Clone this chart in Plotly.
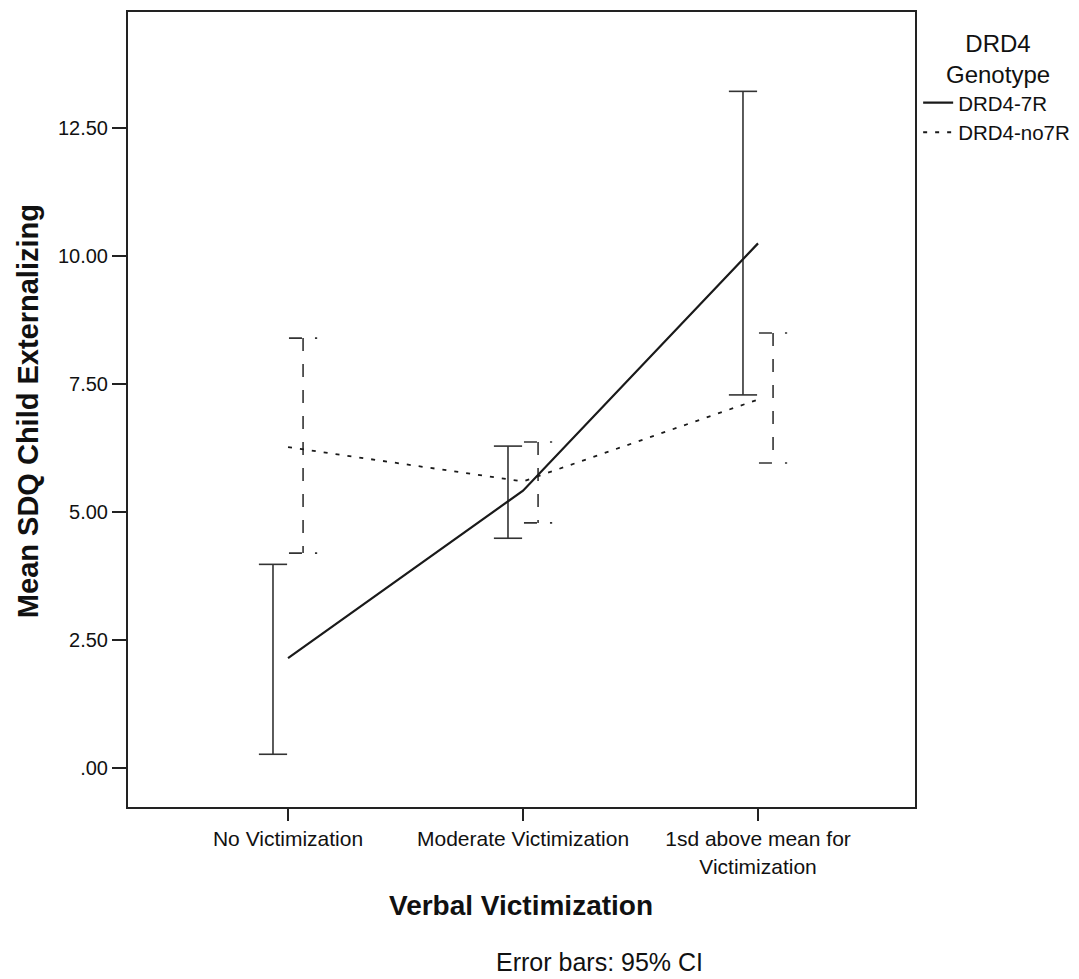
import plotly.graph_objects as go

categories = ["No Victimization", "Moderate Victimization", "1sd above mean for<br>Victimization"]
cat_pos = [0, 1, 2]

mean_7r = [2.15, 5.42, 10.25]
lo_7r = [0.27, 4.49, 7.29]
hi_7r = [3.98, 6.29, 13.22]

mean_no7r = [6.27, 5.60, 7.20]
lo_no7r = [4.20, 4.79, 5.96]
hi_no7r = [8.40, 6.37, 8.50]

ytick_vals = [0, 2.5, 5, 7.5, 10, 12.5]
ytick_text = [".00", "2.50", "5.00", "7.50", "10.00", "12.50"]

FONT = "Liberation Sans, Arial, sans-serif"
INK = "#1a1a1a"
TXT = "#111111"
BAR_OFFSET = 0.064
CAP_HALF = 0.06


def bar_path(xs, lo, hi, offset):
    px, py = [], []
    for x, l, h in zip(xs, lo, hi):
        xc = x + offset
        px += [xc - CAP_HALF, xc + CAP_HALF, None, xc, xc, None, xc - CAP_HALF, xc + CAP_HALF, None]
        py += [h, h, None, h, l, None, l, l, None]
    return px, py


fig = go.Figure()

bx, by = bar_path(cat_pos, lo_7r, hi_7r, -BAR_OFFSET)
fig.add_trace(go.Scatter(x=bx, y=by, mode="lines", line=dict(color="#333333", width=1.6),
                         showlegend=False, hoverinfo="skip", connectgaps=False))
bx, by = bar_path(cat_pos, lo_no7r, hi_no7r, BAR_OFFSET)
fig.add_trace(go.Scatter(x=bx, y=by, mode="lines", line=dict(color="#333333", width=1.6, dash="13px,13px"),
                         showlegend=False, hoverinfo="skip", connectgaps=False))

fig.add_trace(go.Scatter(x=cat_pos, y=mean_7r, mode="lines", name="DRD4-7R",
                         line=dict(color=INK, width=2.2), legendgroup="a"))
fig.add_trace(go.Scatter(x=cat_pos, y=mean_no7r, mode="lines", name="DRD4-no7R",
                         line=dict(color=INK, width=1.8, dash="4px,8px"), legendgroup="b"))

fig.update_layout(
    width=1071, height=971,
    margin=dict(l=120, r=164, t=4, b=172, autoexpand=False),
    paper_bgcolor="white", plot_bgcolor="white",
    font=dict(family=FONT, color=TXT, size=20),
    showlegend=True,
    legend=dict(x=1.004, y=0.911, xanchor="left", yanchor="top",
                font=dict(size=20.5, family=FONT, color=TXT),
                tracegroupgap=0, bgcolor="rgba(0,0,0,0)", itemwidth=30),
    xaxis=dict(range=[-0.681, 2.668], tickmode="array", tickvals=cat_pos, ticktext=categories,
               showgrid=False, zeroline=False, showline=True, linecolor="#222222", linewidth=2,
               mirror=True, ticks="outside", ticklen=12, tickwidth=1.5, tickcolor="#222222",
               tickfont=dict(size=21, family=FONT, color=TXT), automargin=False),
    yaxis=dict(range=[-0.76, 14.77], tickmode="array", tickvals=ytick_vals, ticktext=ytick_text,
               showgrid=False, zeroline=False, showline=True, linecolor="#222222", linewidth=2,
               mirror=True, ticks="outside", ticklen=14, tickwidth=1.5, tickcolor="#222222",
               tickfont=dict(size=20, family=FONT, color=TXT), automargin=False),
    annotations=[
        dict(text="<b>Verbal Victimization</b>", xref="paper", yref="paper", x=0.4994, y=-0.1233,
             xanchor="center", yanchor="middle", showarrow=False, font=dict(size=28, family=FONT, color=TXT)),
        dict(text="Error bars: 95% CI", xref="paper", yref="paper", x=0.5997, y=-0.195,
             xanchor="center", yanchor="middle", showarrow=False, font=dict(size=25, family=FONT, color=TXT)),
        dict(text="<b>Mean SDQ Child Externalizing</b>", xref="paper", yref="paper", x=-0.127, y=0.498,
             xanchor="center", yanchor="middle", textangle=-90, showarrow=False,
             font=dict(size=29, family=FONT, color=TXT)),
        dict(text="DRD4<br>Genotype", xref="paper", yref="paper", x=1.1055, y=0.9415,
             xanchor="center", yanchor="middle", showarrow=False, align="center",
             font=dict(size=24, family=FONT, color=TXT)),
    ],
)

fig.write_html("out.html")
